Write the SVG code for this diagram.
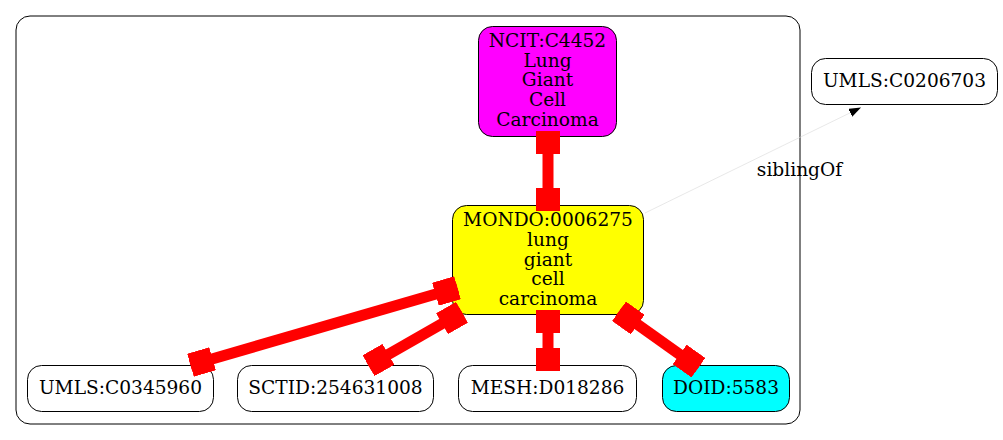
<svg xmlns="http://www.w3.org/2000/svg" width="1003" height="440" viewBox="0 0 1003 440">
<defs>
<style>
.node rect{stroke:#000;stroke-width:1}
.t{font-family:"DejaVu Serif",serif;font-size:18.6px;text-anchor:middle;fill:#000}
.rel{stroke:#ff0000;stroke-width:11;fill:none;marker-start:url(#boxS);marker-end:url(#boxE)}
</style>
<marker id="boxS" markerUnits="userSpaceOnUse" viewBox="0 0 23 24" markerWidth="23" markerHeight="24" refX="0" refY="12" orient="auto"><rect x="0" y="0" width="23" height="24" fill="#ff0000"/></marker>
<marker id="boxE" markerUnits="userSpaceOnUse" viewBox="0 0 23 24" markerWidth="23" markerHeight="24" refX="23" refY="12" orient="auto"><rect x="0" y="0" width="23" height="24" fill="#ff0000"/></marker>
<marker id="arr" markerUnits="userSpaceOnUse" viewBox="0 0 12 9" markerWidth="12" markerHeight="9" refX="12" refY="4.5" orient="auto"><path d="M0,0 L12,4.5 L0,9 z" fill="#000"/></marker>
</defs>
<rect width="1003" height="440" fill="#fff"/>
<g id="cluster"><rect x="16" y="16" width="784" height="408" rx="14" fill="none" stroke="#000" stroke-width="1"/></g>
<g id="n_ncit" class="node"><rect x="478.5" y="26.5" width="138" height="110" rx="14" fill="#ff00ff"/>
<text class="t" x="547.5" y="46.7">NCIT:C4452</text><text class="t" x="547.5" y="66.5">Lung</text><text class="t" x="547.5" y="86.3">Giant</text><text class="t" x="547.5" y="106.1">Cell</text><text class="t" x="547.5" y="125.9">Carcinoma</text></g>
<g id="n_mondo" class="node"><rect x="452.5" y="205.5" width="191" height="109" rx="14" fill="#ffff00"/>
<text class="t" x="548" y="226.3">MONDO:0006275</text><text class="t" x="548" y="246">lung</text><text class="t" x="548" y="265.7">giant</text><text class="t" x="548" y="285.4">cell</text><text class="t" x="548" y="305.1">carcinoma</text></g>
<g id="n_umls1" class="node"><rect x="811.5" y="58.5" width="186" height="46" rx="14" fill="#fff"/><text class="t" x="904.5" y="87">UMLS:C0206703</text></g>
<g id="n_umls2" class="node"><rect x="27.5" y="365.5" width="186" height="46" rx="14" fill="#fff"/><text class="t" x="120.5" y="393.5">UMLS:C0345960</text></g>
<g id="n_sctid" class="node"><rect x="237.5" y="365.5" width="196" height="46" rx="14" fill="#fff"/><text class="t" x="335.5" y="393.5">SCTID:254631008</text></g>
<g id="n_mesh" class="node"><rect x="458.5" y="365.5" width="178" height="46" rx="14" fill="#fff"/><text class="t" x="547.5" y="393.5">MESH:D018286</text></g>
<g id="n_doid" class="node"><rect x="662.5" y="365.5" width="127" height="46" rx="14" fill="#00ffff"/><text class="t" x="726" y="393.5">DOID:5583</text></g>
<g id="edges">
<line class="rel" x1="548" y1="131" x2="548" y2="211"/>
<line class="rel" x1="457.5" y1="287.8" x2="190.5" y2="365.2"/>
<line class="rel" x1="462" y1="312.3" x2="368.5" y2="365.7"/>
<line class="rel" x1="548" y1="310" x2="548" y2="371"/>
<line class="rel" x1="619" y1="311.3" x2="698.4" y2="367.7"/>
<line x1="645" y1="213" x2="861" y2="107.5" stroke="#d9d9d9" stroke-width="0.6" marker-end="url(#arr)"/>
<text class="t" x="799.5" y="176">siblingOf</text>
</g>
</svg>
